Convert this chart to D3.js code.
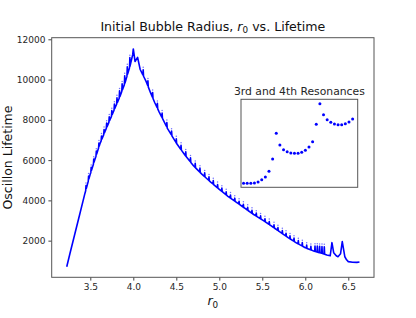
<!DOCTYPE html>
<html>
<head>
<meta charset="utf-8">
<script src="https://cdn.jsdelivr.net/npm/d3@7"></script>
<style>
  body { margin: 0; background: #fff; }
  svg { font-family: "DejaVu Sans", sans-serif; }
</style>
</head>
<body>
<div id="chart"></div>
<script>
// lower envelope of the scatter (r0, lifetime)
const curveR0 = [3.226, 3.264, 3.322, 3.380, 3.438, 3.497, 3.555, 3.612, 3.671, 3.729, 3.787, 3.845, 3.903, 3.961, 3.993, 4.0,
  4.02, 4.05, 4.08, 4.15, 4.2, 4.25, 4.3, 4.4, 4.5, 4.6, 4.7, 4.8, 4.9, 5.0, 5.1, 5.2, 5.3, 5.4, 5.5, 5.6, 5.7, 5.8, 5.9,
  6.0, 6.1, 6.2, 6.25, 6.29, 6.31, 6.33, 6.36, 6.38, 6.41, 6.43, 6.46, 6.48, 6.5, 6.55, 6.6, 6.63];
const curveLife = [706, 1373, 2368, 3363, 4358, 5269, 6050, 6811, 7423, 8005, 8587, 9164, 9831, 10657, 11239, 11522,
  10900, 11100, 10500, 9900, 9350, 8850, 8400, 7550, 6850, 6250, 5720, 5290, 4910, 4550, 4200, 3900, 3600, 3300, 3030, 2750, 2450, 2150, 1880,
  1650, 1480, 1360, 1290, 1250, 1900, 1400, 1250, 1200, 1350, 1950, 1200, 1050, 960, 930, 920, 940];

// resonance teeth (r0, top of the spike)
const toothR0 = [3.45, 3.48, 3.51, 3.54, 3.57, 3.60, 3.63, 3.66, 3.69, 3.72, 3.75, 3.78, 3.81, 3.84, 3.87, 3.90, 3.93, 3.96,
  4.115, 4.17, 4.225, 4.28, 4.335, 4.39, 4.445, 4.50, 4.555, 4.61, 4.665, 4.72, 4.775, 4.83, 4.88, 4.93, 4.98, 5.03, 5.08,
  5.13, 5.18, 5.23, 5.28, 5.33, 5.38, 5.43, 5.48, 5.531, 5.581, 5.636, 5.682, 5.733, 5.776, 5.822, 5.869, 5.919, 5.965,
  6.016, 6.065, 6.113, 6.14, 6.167, 6.194, 6.221];
const toothLife = [4800, 5270, 5700, 6110, 6510, 6910, 7260, 7580, 7900, 8210, 8520, 8840, 9160, 9500, 9850, 10250, 10700, 11150,
  10550, 10000, 9420, 8880, 8400, 7930, 7500, 7120, 6800, 6470, 6170, 5900, 5660, 5430, 5230, 5040, 4850, 4670, 4490,
  4330, 4170, 4020, 3870, 3720, 3570, 3430, 3290, 3150, 3010, 2850, 2710, 2560, 2430, 2300, 2190, 2060, 1960,
  1840, 1780, 1790, 1790, 1780, 1770, 1760];

// inset: 3rd and 4th resonances
const insetR0 = [6.22, 6.23, 6.24, 6.25, 6.26, 6.27, 6.28, 6.29, 6.30, 6.31, 6.32, 6.33, 6.34, 6.35, 6.36, 6.37,
  6.38, 6.39, 6.40, 6.41, 6.42, 6.43, 6.44, 6.45, 6.46, 6.47, 6.48, 6.49, 6.50, 6.51, 6.52];
const insetLife = [1200, 1200, 1200, 1204, 1216, 1243, 1276, 1344, 1492, 1800, 1660, 1603, 1579, 1564, 1560, 1560,
  1572, 1596, 1636, 1699, 1908, 2155, 2023, 1963, 1932, 1912, 1903, 1903, 1915, 1936, 1972];

const xTicks = [3.5, 4.0, 4.5, 5.0, 5.5, 6.0, 6.5];
const yTicks = [2000, 4000, 6000, 8000, 10000, 12000];

const width = 416, height = 318;
const margin = ({ top: 37.7, right: 42, bottom: 40.7, left: 51.7 });
const blue = "#0000ff";

const svg = d3.select("#chart").append("svg")
    .attr("width", width)
    .attr("height", height);

const x = d3.scaleLinear()
    .domain([3.051, 6.799])
    .range([margin.left, width - margin.right]);

const y = d3.scaleLinear()
    .domain([180, 12080])
    .range([height - margin.bottom, margin.top]);

// piecewise scale along the envelope, used to hang the teeth on the curve
const baseAt = d3.scaleLinear().domain(curveR0).range(curveLife);

// axes
svg.append("g")
    .attr("transform", `translate(0,${height - margin.bottom})`)
    .call(d3.axisBottom(x).tickValues(xTicks).tickFormat(d3.format(".1f")).tickSize(3.3).tickPadding(3))
    .call(g => g.select(".domain").remove());

svg.append("g")
    .attr("transform", `translate(${margin.left},0)`)
    .call(d3.axisLeft(y).tickValues(yTicks).tickFormat(d3.format("d")).tickSize(3.3).tickPadding(3))
    .call(g => g.select(".domain").remove());

svg.selectAll(".tick text").attr("font-size", 9).attr("fill", "#262626").attr("font-family", "DejaVu Sans");
svg.selectAll(".tick line").attr("stroke", "#444");

// main curve: envelope plus a hook at every resonance
let pts = curveR0.map((r, i) => [r, curveLife[i]]);
toothR0.forEach((r, i) => {
    pts.push([r - 0.004, baseAt(r - 0.004)]);
    pts.push([r, toothLife[i] - 60]);
    pts.push([r + 0.004, baseAt(r + 0.004)]);
});
pts.sort((a, b) => a[0] - b[0]);

svg.append("path")
    .datum(pts)
    .attr("fill", "none")
    .attr("stroke", blue)
    .attr("stroke-width", 1.6)
    .attr("stroke-linejoin", "round")
    .attr("d", d3.line().x(d => x(d[0])).y(d => y(d[1])));

svg.selectAll(".toothdot")
    .data(toothR0)
    .join("circle")
    .attr("class", "toothdot")
    .attr("cx", d => x(d))
    .attr("cy", (d, i) => y(toothLife[i]) - 1.2)
    .attr("r", 0.75)
    .attr("fill", blue)
    .attr("opacity", 0.55);

// frame
svg.append("rect")
    .attr("x", margin.left)
    .attr("y", margin.top)
    .attr("width", width - margin.left - margin.right)
    .attr("height", height - margin.top - margin.bottom)
    .attr("fill", "none")
    .attr("stroke", "#555")
    .attr("stroke-width", 1);

// inset
const inset = ({ x0: 241, x1: 357.7, y0: 99.3, y1: 187.3 });

const ix = d3.scaleLinear().domain([6.213, 6.534]).range([inset.x0, inset.x1]);
const iy = d3.scaleLinear().domain([1152, 2208]).range([inset.y1, inset.y0]);

svg.append("rect")
    .attr("x", inset.x0)
    .attr("y", inset.y0)
    .attr("width", inset.x1 - inset.x0)
    .attr("height", inset.y1 - inset.y0)
    .attr("fill", "#fff")
    .attr("stroke", "#555")
    .attr("stroke-width", 1);

svg.selectAll(".idot")
    .data(insetR0)
    .join("circle")
    .attr("class", "idot")
    .attr("cx", d => ix(d))
    .attr("cy", (d, i) => iy(insetLife[i]))
    .attr("r", 1.5)
    .attr("fill", blue);

svg.append("text")
    .attr("x", (inset.x0 + inset.x1) / 2)
    .attr("y", 94.5)
    .attr("text-anchor", "middle")
    .attr("font-size", 10.8)
    .attr("fill", "#262626")
    .text("3rd and 4th Resonances");

// title
const title = svg.append("text")
    .attr("x", (margin.left + width - margin.right) / 2)
    .attr("y", 31)
    .attr("text-anchor", "middle")
    .attr("font-size", 12.6)
    .attr("fill", "#111");
title.append("tspan").text("Initial Bubble Radius, ");
title.append("tspan").attr("font-style", "italic").text("r");
title.append("tspan").attr("font-size", 8.8).attr("dy", 2.4).text("0");
title.append("tspan").attr("dy", -2.4).text(" vs. Lifetime");

// x label
const xl = svg.append("text")
    .attr("x", (margin.left + width - margin.right) / 2)
    .attr("y", 305)
    .attr("text-anchor", "middle")
    .attr("font-size", 12.5)
    .attr("fill", "#111");
xl.append("tspan").attr("font-style", "italic").text("r");
xl.append("tspan").attr("font-size", 8.8).attr("dy", 2.5).text("0");

// y label
svg.append("text")
    .attr("transform", `translate(12,${(margin.top + height - margin.bottom) / 2}) rotate(-90)`)
    .attr("text-anchor", "middle")
    .attr("font-size", 12.5)
    .attr("fill", "#111")
    .text("Oscillon Lifetime");
</script>
</body>
</html>
